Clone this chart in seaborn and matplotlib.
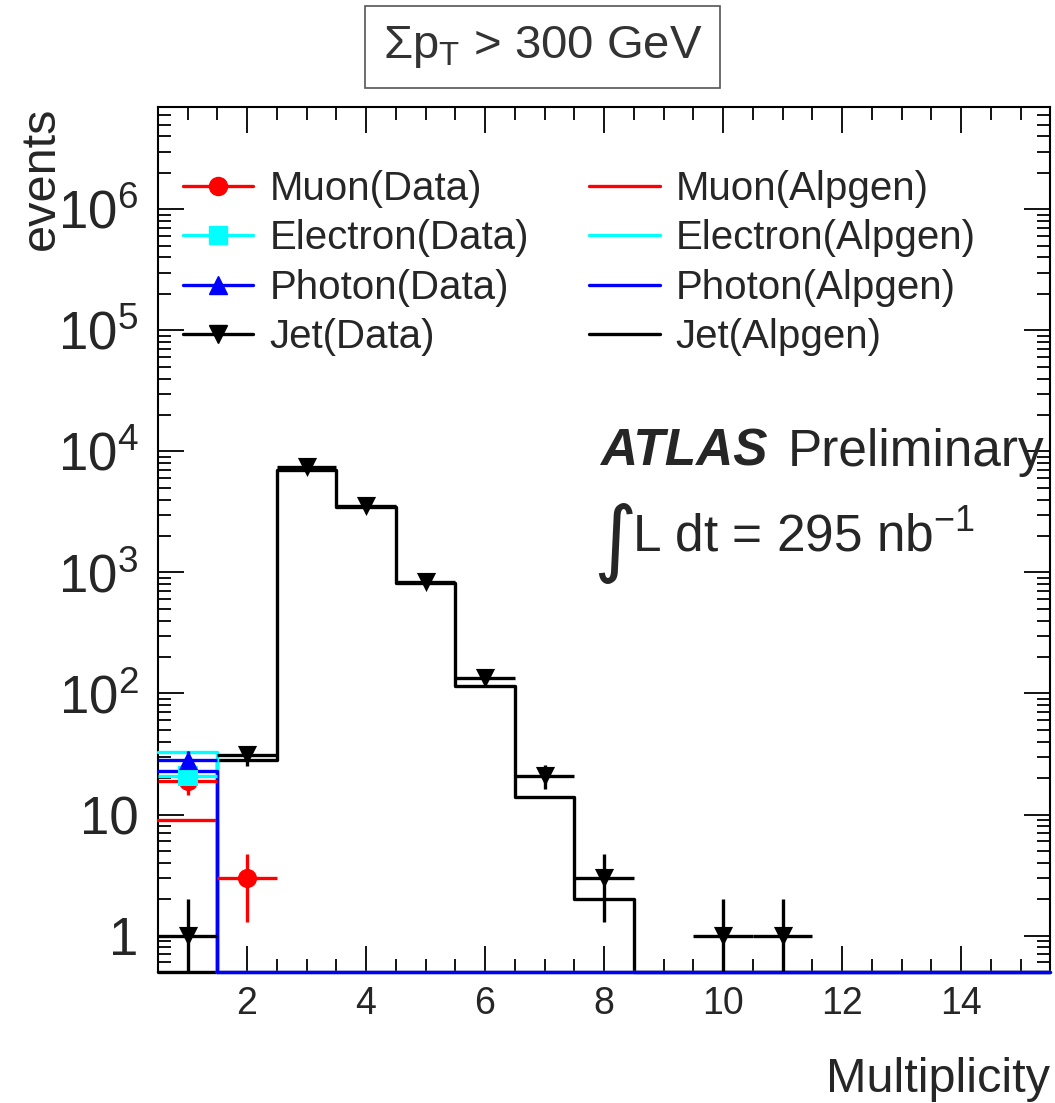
import numpy as np
import pandas as pd
import matplotlib
matplotlib.use("Agg")
import matplotlib.pyplot as plt
import seaborn as sns
from matplotlib.lines import Line2D
from matplotlib.ticker import FixedLocator, MultipleLocator, LogLocator, NullFormatter, FixedFormatter

# bins of the multiplicity histogram
bin_edges = np.arange(0.5, 16.0, 1.0)
multiplicity = np.arange(1, 16)

# Alpgen histograms (events per bin)
muon_alpgen = [9, 0, 0, 0, 0, 0, 0, 0, 0, 0, 0, 0, 0, 0, 0]
electron_alpgen = [33, 0, 0, 0, 0, 0, 0, 0, 0, 0, 0, 0, 0, 0, 0]
photon_alpgen = [23, 0, 0, 0, 0, 0, 0, 0, 0, 0, 0, 0, 0, 0, 0]
jet_alpgen = [0, 28, 7000, 3500, 820, 115, 14, 2, 0, 0, 0, 0, 0, 0, 0]

# data points
muon_x = [1, 2]
muon_y = [19, 3]
muon_err = [4.4, 1.7]
electron_x = [1]
electron_y = [21]
electron_err = [4.6]
photon_x = [1]
photon_y = [28]
photon_err = [5.3]
jet_x = [1, 2, 3, 4, 5, 6, 7, 8, 10, 11]
jet_y = [1, 31, 7400, 3550, 840, 135, 21, 3, 1, 1]
jet_err = [1, 5.6, 86, 60, 29, 11.6, 4.6, 1.7, 1, 1]

colors = {"Muon": "#ff0000", "Electron": "#00ffff", "Photon": "#0000ff", "Jet": "#000000"}
markers = {"Muon": "o", "Electron": "s", "Photon": "^", "Jet": "v"}

y_min, y_max = 0.5, 7e6

sns.set_style("ticks")
plt.rcParams["font.family"] = ["Liberation Sans", "DejaVu Sans"]
plt.rcParams["mathtext.fontset"] = "custom"
plt.rcParams["mathtext.rm"] = "Liberation Sans"
plt.rcParams["mathtext.it"] = "Liberation Sans:italic"
plt.rcParams["mathtext.bf"] = "Liberation Sans:bold"

fig = plt.figure(figsize=(10.55, 11.03), dpi=100)
ax = fig.add_axes([157.75 / 1055, 1 - 972 / 1103, 892.5 / 1055, 865 / 1103])

# histograms as steps, empty bins drawn on the bottom of the frame like ROOT does
rows = []
for name, vals in [("Jet", jet_alpgen), ("Muon", muon_alpgen),
                   ("Electron", electron_alpgen), ("Photon", photon_alpgen)]:
    steps = list(vals) + [vals[-1]]
    for e, v in zip(bin_edges, steps):
        rows.append({"sample": name, "edge": e, "events": max(v, y_min)})
hist_df = pd.DataFrame(rows)

sns.lineplot(data=hist_df, x="edge", y="events", hue="sample",
             hue_order=["Jet", "Muon", "Electron", "Photon"], palette=colors,
             drawstyle="steps-post", estimator=None, sort=False,
             linewidth=2.4, legend=False, ax=ax)
for ln in ax.get_lines():
    ln.set_clip_on(False)
    ln.set_zorder(3)

ax.set_yscale("log", nonpositive="clip")

# data points with errors
for name, xs, ys, es in [("Muon", muon_x, muon_y, muon_err),
                         ("Electron", electron_x, electron_y, electron_err),
                         ("Photon", photon_x, photon_y, photon_err),
                         ("Jet", jet_x, jet_y, jet_err)]:
    ax.errorbar(xs, ys, xerr=0.5, yerr=es, fmt="none", ecolor=colors[name],
                elinewidth=2.4, capsize=0, zorder=4)
    sns.scatterplot(x=xs, y=ys, marker=markers[name], color=colors[name],
                    s=190, linewidth=0, zorder=5, ax=ax)

ax.set_xlim(0.5, 15.5)
ax.set_ylim(y_min, y_max)

ax.xaxis.set_major_locator(MultipleLocator(2))
ax.xaxis.set_minor_locator(MultipleLocator(0.5))
ax.yaxis.set_major_locator(FixedLocator([1, 10, 1e2, 1e3, 1e4, 1e5, 1e6]))
ax.yaxis.set_major_formatter(FixedFormatter(
    ["1", "10", r"$\mathregular{10^{2}}$", r"$\mathregular{10^{3}}$",
     r"$\mathregular{10^{4}}$", r"$\mathregular{10^{5}}$", r"$\mathregular{10^{6}}$"]))
ax.yaxis.set_minor_locator(LogLocator(base=10, subs=np.arange(2, 10), numticks=20))
ax.yaxis.set_minor_formatter(NullFormatter())

ax.tick_params(which="both", direction="in", top=True, right=True, width=1.3, color="black")
ax.tick_params(which="major", length=19)
ax.tick_params(which="minor", length=9.5)
ax.tick_params(axis="x", which="major", labelsize=27, pad=10)
ax.tick_params(axis="y", which="major", labelsize=38, pad=14)
for sp in ax.spines.values():
    sp.set_linewidth(1.5)
    sp.set_color("black")

ax.set_xlabel("Multiplicity", fontsize=35, loc="right")
ax.xaxis.set_label_coords(1.0, -0.098)
ax.set_ylabel("events", fontsize=35, loc="top")
ax.yaxis.set_label_coords(-0.105, 1.0)

# legend
handles = []
labels = []
for name in ["Muon", "Electron", "Photon", "Jet"]:
    handles.append(Line2D([0], [0], color=colors[name], marker=markers[name],
                          markersize=13, lw=2.4))
    labels.append(name + "(Data)")
for name in ["Muon", "Electron", "Photon", "Jet"]:
    handles.append(Line2D([0], [0], color=colors[name], lw=2.4))
    labels.append(name + "(Alpgen)")
ax.legend(handles, labels, ncol=2, loc="upper left", bbox_to_anchor=(0.028, 0.927),
          frameon=False, fontsize=29, handlelength=1.75, handletextpad=0.4,
          labelspacing=0.28, columnspacing=1.5, borderpad=0, borderaxespad=0)

# labels inside the plot
ax.text(0.4955, 0.585, "ATLAS", fontsize=37, fontweight="bold", fontstyle="italic",
        transform=ax.transAxes, ha="left", va="baseline")
ax.text(0.706, 0.585, "Preliminary", fontsize=37,
        transform=ax.transAxes, ha="left", va="baseline")
ax.text(0.488, 0.469, "\u222b", fontsize=60, family="DejaVu Sans",
        transform=ax.transAxes, ha="left", va="baseline")
ax.text(0.531, 0.4855, r"L dt = 295 nb$^{\mathregular{-1}}$", fontsize=37,
        transform=ax.transAxes, ha="left", va="baseline")

# title box
fig.text(0.514, 0.957, r"$\Sigma$p$_{\mathregular{T}}$ > 300 GeV", fontsize=34, color="#333333",
         ha="center", va="center",
         bbox=dict(boxstyle="square,pad=0.38", facecolor="white", edgecolor="#555555", linewidth=1.2))

plt.savefig("out.png", dpi=100)
plt.close()
